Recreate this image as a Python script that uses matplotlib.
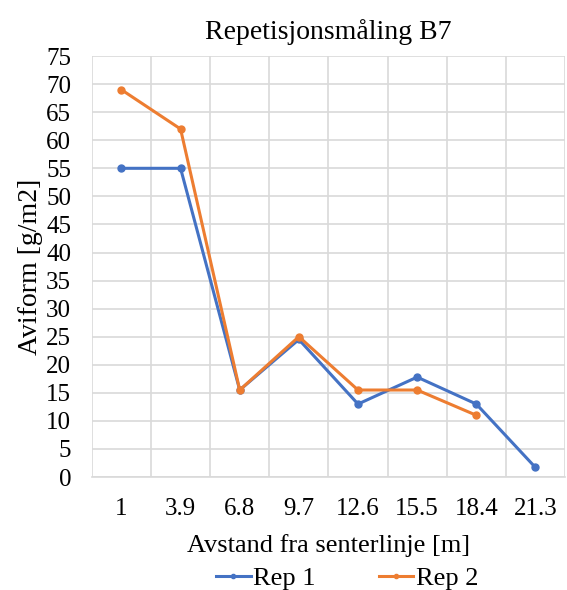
import matplotlib
matplotlib.use("Agg")
import matplotlib.pyplot as plt
import numpy as np

categories = ["1", "3.9", "6.8", "9.7", "12.6", "15.5", "18.4", "21.3"]
rep1 = [55, 55, 15.5, 24.5, 13, 17.8, 13, 1.7]
rep2 = [69, 62, 15.5, 25, 15.5, 15.5, 11]

plt.rcParams['font.family'] = ['Liberation Serif', 'DejaVu Serif']

fig = plt.figure(figsize=(5.67, 5.90), dpi=100)
ax = fig.add_axes([0.162, 0.1915, 0.8345, 0.7135])

x1 = np.arange(len(rep1))
x2 = np.arange(len(rep2))
ax.plot(x1, rep1, color='#4472C4', lw=2.2, marker='o', ms=5, label='Rep 1')
ax.plot(x2, rep2, color='#ED7D31', lw=2.2, marker='o', ms=5, label='Rep 2')

ax.set_xlim(-0.5, len(categories) - 0.5)
ax.set_ylim(0, 75)
ax.set_yticks(np.arange(0, 76, 5))
ax.set_xticks(np.arange(len(categories)))
ax.set_xticklabels(categories)
ax.set_xticks(np.arange(len(categories) + 1) - 0.5, minor=True)
ax.grid(True, which='major', axis='y', color='#D9D9D9', lw=1.2)
ax.grid(True, which='minor', axis='x', color='#D9D9D9', lw=1.2)
ax.set_axisbelow(True)
for s in ['top', 'right', 'left']:
    ax.spines[s].set_visible(False)
ax.spines['bottom'].set_color('#D9D9D9')
ax.spines['bottom'].set_linewidth(1.2)
ax.tick_params(which='both', length=0, labelsize=18, colors='#000000')
ax.tick_params(axis='x', pad=15)
ax.tick_params(axis='y', pad=15)

ax.set_title('Repetisjonsmåling B7', fontsize=20, pad=12)
ax.set_xlabel('Avstand fra senterlinje [m]', fontsize=19, labelpad=10)
ax.set_ylabel('Aviform [g/m2]', fontsize=20, labelpad=2)

ax.legend(loc='center', bbox_to_anchor=(0.54, -0.24), ncol=2, frameon=False,
          fontsize=19, handlelength=1.3, columnspacing=2.4, handletextpad=0.1,
          markerscale=0.6, borderpad=0.0)

fig.savefig('out.png', dpi=100)
